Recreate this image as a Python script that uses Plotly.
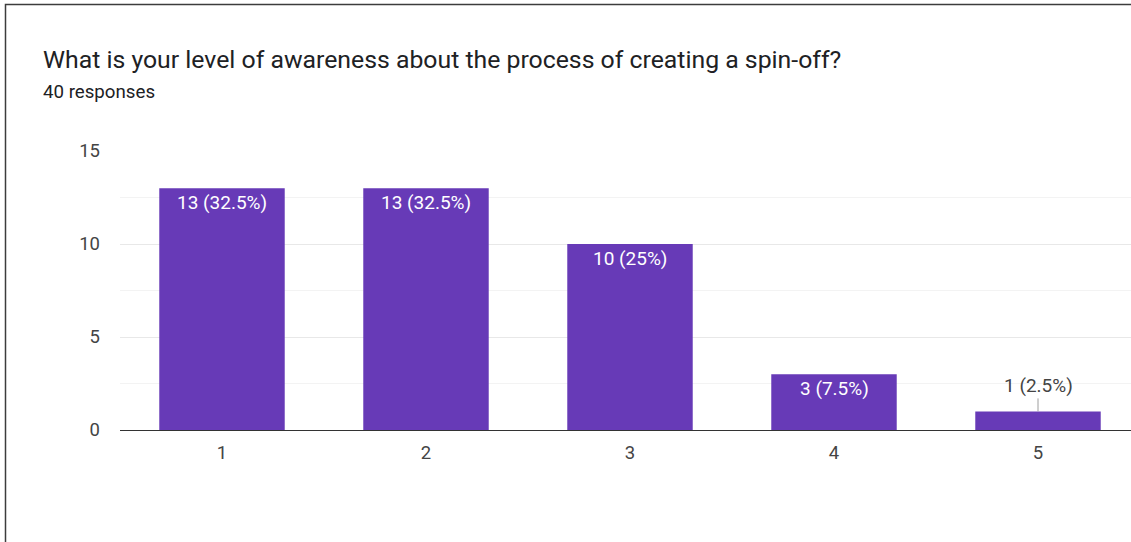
import plotly.graph_objects as go

# Survey results
categories = ["1", "2", "3", "4", "5"]
counts = [13, 13, 10, 3, 1]
total_responses = 40

title_text = "What is your level of awareness about the process of creating a spin-off?"
subtitle_text = f"{total_responses} responses"

W, H = 1131, 542
L, R, T, B = 120, 0, 151, 112
plot_w = W - L - R
plot_h = H - T - B

def px_x(px):
    return (px - L) / plot_w

def px_y(py):
    return (H - B - py) / plot_h

bar_color = "#673ab7"
text_color = "#202124"

fig = go.Figure()
fig.add_trace(go.Bar(
    x=list(range(len(categories))),
    y=counts,
    marker=dict(color=bar_color, line=dict(width=0)),
    width=0.615,
    hoverinfo="skip",
))

def label(c):
    pct = c / total_responses * 100
    pct_s = f"{pct:.1f}".rstrip("0").rstrip(".")
    return f"{c} ({pct_s}%)"

annotations = []
for i, c in enumerate(counts):
    if c >= 2:
        annotations.append(dict(
            x=i, y=c, xref="x", yref="y", text=label(c), showarrow=False,
            yanchor="middle", yshift=-14,
            font=dict(family="Roboto", size=19, color="white"),
        ))
    else:
        annotations.append(dict(
            x=i, y=c, xref="x", yref="y", text=label(c), showarrow=True,
            ax=0, ay=-26, arrowhead=0, arrowwidth=1, arrowcolor="#9e9e9e",
            standoff=0, startstandoff=0,
            font=dict(family="Roboto", size=19, color="#444444"),
        ))

annotations.append(dict(
    x=px_x(41), y=px_y(60), xref="paper", yref="paper", text=title_text,
    showarrow=False, xanchor="left", yanchor="middle",
    font=dict(family="Roboto", size=24.8, color=text_color),
))
annotations.append(dict(
    x=px_x(41), y=px_y(92), xref="paper", yref="paper", text=subtitle_text,
    showarrow=False, xanchor="left", yanchor="middle",
    font=dict(family="Roboto", size=18.7, color=text_color),
))

# card border (left and top edges)
bx, by = px_x(5.5), px_y(4.5)
shapes = [dict(
    type="path", xref="paper", yref="paper",
    path=f"M {bx},{px_y(560)} L {bx},{by} L {px_x(1150)},{by}",
    line=dict(color="#3c3c3c", width=1.5),
)]

# keep 204 px per category while the plot runs to the right edge
x_max = -0.5 + plot_w / 204

fig.update_layout(
    width=W, height=H,
    margin=dict(l=L, r=R, t=T, b=B, pad=0),
    paper_bgcolor="white", plot_bgcolor="white",
    showlegend=False,
    font=dict(family="Roboto", size=16, color="#444444"),
    annotations=annotations,
    shapes=shapes,
    xaxis=dict(
        range=[-0.5, x_max],
        tickmode="array",
        tickvals=list(range(len(categories))),
        ticktext=categories,
        showgrid=False,
        showline=True, linecolor="#333333", linewidth=1,
        ticks="", ticklabelstandoff=6,
        tickfont=dict(family="Roboto", size=18.5, color="#444444"),
        fixedrange=True,
    ),
    yaxis=dict(
        range=[0, 15],
        tickvals=[0, 5, 10, 15],
        showgrid=True, gridcolor="#e8e8e8", gridwidth=1,
        minor=dict(dtick=2.5, showgrid=True, gridcolor="#f3f3f3", gridwidth=1),
        zeroline=False, showline=False,
        ticks="", ticklabelstandoff=19,
        tickfont=dict(family="Roboto", size=18.5, color="#444444"),
        fixedrange=True,
    ),
)

fig.write_html("out.html")
